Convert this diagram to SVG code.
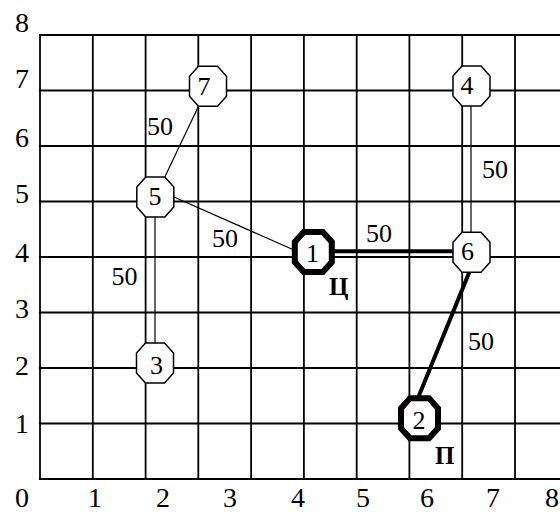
<svg xmlns="http://www.w3.org/2000/svg" xmlns:xlink="http://www.w3.org/1999/xlink" width="560" height="512" viewBox="0 0 560 512">
<style>
  .grid line { stroke: #000; stroke-width: 1.8; }
  text { font-family: 'Liberation Serif', 'Times New Roman', 'DejaVu Serif', serif; fill: #000; }
  .axis text { font-size: 28px; text-anchor: middle; }
  .thin { stroke: #000; stroke-width: 1.2; fill: none; }
  .thick { stroke: #000; stroke-width: 4; fill: none; }
  .node use { fill: #fff; stroke: #000; stroke-width: 1.5; }
  .node.main use { stroke-width: 6; }
  .node text { font-size: 26px; text-anchor: middle; }
  .elabel text { font-size: 26px; text-anchor: middle; }
  .tag { font-size: 25px; font-weight: bold; }
</style>
<defs>
  <path id="oct" d="M-9.5,-20 L9.5,-20 L18.5,-10 L18.5,10 L9.5,20 L-9.5,20 L-18.5,10 L-18.5,-10 Z"/>
</defs>
<rect width="560" height="512" fill="#fff"/>
<g class="grid">
  <line x1="40" y1="35" x2="40" y2="479"/>
  <line x1="92.8" y1="35" x2="92.8" y2="479"/>
  <line x1="145.6" y1="35" x2="145.6" y2="479"/>
  <line x1="198.3" y1="35" x2="198.3" y2="479"/>
  <line x1="251.1" y1="35" x2="251.1" y2="479"/>
  <line x1="303.9" y1="35" x2="303.9" y2="479"/>
  <line x1="356.7" y1="35" x2="356.7" y2="479"/>
  <line x1="409.4" y1="35" x2="409.4" y2="479"/>
  <line x1="462.2" y1="35" x2="462.2" y2="479"/>
  <line x1="515" y1="35" x2="515" y2="479"/>
  <line x1="39" y1="35" x2="560" y2="35"/>
  <line x1="39" y1="90.5" x2="560" y2="90.5"/>
  <line x1="39" y1="146" x2="560" y2="146"/>
  <line x1="39" y1="201.5" x2="560" y2="201.5"/>
  <line x1="39" y1="257" x2="560" y2="257"/>
  <line x1="39" y1="312.5" x2="560" y2="312.5"/>
  <line x1="39" y1="368" x2="560" y2="368"/>
  <line x1="39" y1="423.5" x2="560" y2="423.5"/>
  <line x1="39" y1="479" x2="560" y2="479"/>
</g>
<g class="axis">
  <text x="22" y="32">8</text>
  <text x="22" y="88">7</text>
  <text x="22" y="147">6</text>
  <text x="22" y="203">5</text>
  <text x="22" y="262">4</text>
  <text x="22" y="318">3</text>
  <text x="22" y="375">2</text>
  <text x="22" y="433">1</text>
  <text x="22" y="507">0</text>
  <text x="95" y="507">1</text>
  <text x="163" y="507">2</text>
  <text x="230" y="507">3</text>
  <text x="298" y="507">4</text>
  <text x="363" y="507">5</text>
  <text x="427" y="507">6</text>
  <text x="493" y="507">7</text>
  <text x="552" y="507">8</text>
</g>
<g id="connectors">
  <line class="thin" x1="208" y1="86.3" x2="155.3" y2="197"/>
  <line class="thin" x1="173.3" y1="196.7" x2="294" y2="250"/>
  <line class="thin" x1="155" y1="197" x2="155" y2="363"/>
  <line class="thin" x1="471" y1="86" x2="471" y2="252"/>
  <line class="thick" x1="313" y1="251.3" x2="471" y2="251.3"/>
  <line class="thick" x1="471" y1="268" x2="418" y2="398"/>
</g>
<g class="elabel">
  <text x="160" y="135">50</text>
  <text x="225" y="247">50</text>
  <text x="124.5" y="285">50</text>
  <text x="379" y="242">50</text>
  <text x="495" y="178">50</text>
  <text x="481" y="350">50</text>
</g>
<g id="node7" class="node"><use xlink:href="#oct" x="208" y="86.3"/><text x="204" y="95">7</text></g>
<g id="node4" class="node"><use xlink:href="#oct" x="471.5" y="86"/><text x="467" y="94.3">4</text></g>
<g id="node5" class="node"><use xlink:href="#oct" x="155.3" y="197"/><text x="155" y="205">5</text></g>
<g id="node6" class="node"><use xlink:href="#oct" x="471.5" y="252.3"/><text x="467.5" y="260">6</text></g>
<g id="node3" class="node"><use xlink:href="#oct" x="155" y="363"/><text x="156.5" y="374">3</text></g>
<g id="node1" class="node main"><use xlink:href="#oct" x="313.3" y="252"/><text x="312.5" y="262">1</text></g>
<g id="node2" class="node main"><use xlink:href="#oct" x="419.5" y="418.3"/><text x="419" y="429">2</text></g>
<text class="tag" x="329" y="295">Ц</text>
<text class="tag" x="435" y="464">П</text>
</svg>
